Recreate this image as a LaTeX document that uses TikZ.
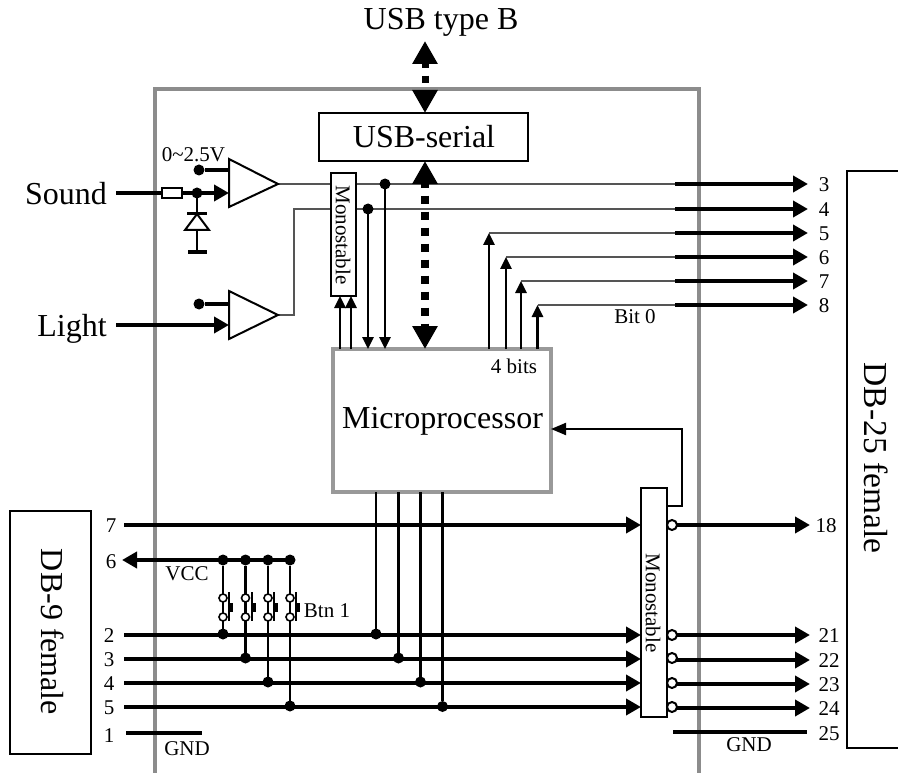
\documentclass[tikz,border=0pt]{standalone}
\usepackage{fontspec}
\setmainfont{Liberation Serif}
\usetikzlibrary{arrows.meta,calc}
\definecolor{framegray}{HTML}{8C8C8C}
\definecolor{microgray}{HTML}{999999}
\definecolor{thinw}{HTML}{555555}
\tikzset{
  big/.style={inner sep=0pt,font=\fontsize{32}{35}\selectfont},
  small/.style={inner sep=0pt,font=\fontsize{21}{24}\selectfont},
  box/.style={draw=black,line width=2pt,fill=white,inner sep=0pt,outer sep=0pt},
  thinwire/.style={draw=thinw,line width=1.3pt},
  thickwire/.style={draw=black,line width=4pt},
  midwire/.style={draw=black,line width=2.6pt},
  signal/.style={thickwire,-{Triangle[length=15pt,width=16pt]}},
  medarrow/.style={midwire,-{Triangle[length=12pt,width=11pt]}},
  usb/.style={draw=black,line width=7pt,{Triangle[length=23pt,width=24pt]}-{Triangle[length=23pt,width=24pt]}},
  joint/.style={circle,fill=black,inner sep=0pt,minimum size=11pt,outer sep=0pt},
  bubble/.style={circle,draw=black,line width=2pt,fill=white,inner sep=0pt,minimum size=10pt,outer sep=0pt},
  sbubble/.style={circle,draw=black,line width=1.6pt,fill=white,inner sep=0pt,minimum size=8pt,outer sep=0pt},
}
\begin{document}
\begin{tikzpicture}[x=1pt,y=-1pt]
\useasboundingbox (0,0) rectangle (898,773);
% frame
\draw[draw=framegray,line width=4pt] (155,773) -- (155,89) -- (699,89) -- (699,773);

% labels, external
\node[big] (usbb) at (441,22) {USB type B};
\node[big] (sound) at (66,194) {Sound};
\node[big] (light) at (72,329) {Light};
\node[box,minimum width=81pt,minimum height=243pt] (db9) at (50.5,632.5) {};
\node[big,rotate=-90] (db9t) at (53,632) {DB-9 female};
\draw[black,line width=2pt] (898,171) -- (847,171) -- (847,748) -- (898,748);
\node[big,rotate=-90,font=\fontsize{33.5}{36}\selectfont] (db25t) at (876,458) {DB-25 female};

% comparators
\coordinate (c1t) at (229,159); \coordinate (c1b) at (229,207); \coordinate (c1o) at (278,184);
\coordinate (c2t) at (229,291); \coordinate (c2b) at (229,339); \coordinate (c2o) at (278,315);

% output stubs
\foreach \n/\y/\lab in {o3/184/3,o4/209/4,o5/233/5,o6/257/6,o7/281/7,o8/305/8}{
  \coordinate (\n s) at (675,\y);
  \coordinate (\n e) at (808,\y);
  \node[small] (\n l) at (824,\y+1) {\lab};
}

% thin wires
\draw[thinwire] (c1o) -- (o3s);
\draw[thinwire] (c2o) -- (294,315) -- (294,209) -- (o4s);
\coordinate (b5) at (489,233); \coordinate (b6) at (506,257);
\coordinate (b7) at (521,281); \coordinate (b8) at (537.5,305);
\draw[thinwire] (b5) -- (o5s);
\draw[thinwire] (b6) -- (o6s);
\draw[thinwire] (b7) -- (o7s);
\draw[thinwire] (b8) -- (o8s);
\foreach \n in {o3,o4,o5,o6,o7,o8}{\draw[signal] (\n s) -- (\n e);}

% boxes
\node[draw=microgray,line width=4pt,fill=white,inner sep=0pt,outer sep=0pt,minimum width=218pt,minimum height=143pt] (micro) at (442,420.5) {};
\node[big] (microt) at (442.5,421) {Microprocessor};
\node[small] (bits) at (514,366) {4 bits};
\node[box,minimum width=209pt,minimum height=48pt] (usbs) at (423.5,137) {};
\node[big] (usbst) at (424,137) {USB-serial};
\node[box,minimum width=25pt,minimum height=123pt] (mono1) at (343,234.5) {};
\node[small,rotate=-90] (mono1t) at (343,235) {Monostable};
\node[box,minimum width=26pt,minimum height=229pt] (mono2) at (654,602.5) {};
\node[small,rotate=-90] (mono2t) at (653,603) {Monostable};

% USB arrows
\coordinate (usbtop) at (425,41);
\draw[usb,dash pattern=on 7pt off 8pt,dash phase=2pt] (usbtop) -- (usbs.north -| usbtop);
\draw[usb,line width=8pt,dash pattern=on 8pt off 8pt,dash phase=3pt] (usbs.south -| usbtop) -- (micro.north -| usbtop);

% Sound input
\node[draw=black,line width=2pt,fill=white,inner sep=0pt,outer sep=0pt,minimum width=20pt,minimum height=10pt] (res) at (172,193) {};
\draw[thickwire] (116,193) -- (res.west);
\draw[signal] (res.east) -- (c1t |- res);
\node[joint] (j1) at (197,193) {};
\node[joint] (j2) at (199,170) {};
\draw[thickwire] (j2) -- (j2 -| c1t);
\coordinate (dtop) at (197,214); \coordinate (dbase) at (197,230); \coordinate (gnd) at (197,252);
\draw[line width=2.6pt] (j1) -- (dtop);
\draw[line width=2.2pt] (187,213.5) -- (207,213.5);
\draw[line width=2pt,fill=white] (dtop) -- (209,230) -- (185,230) -- cycle;
\draw[line width=2.6pt] (dbase) -- (gnd);
\draw[line width=3.5pt] (188,252) -- (207,252);
\node[small] (range) at (193.5,155) {0\textasciitilde2.5V};

% Light input
\coordinate (lightin) at (116,325);
\draw[signal] (lightin) -- (lightin -| c2t);
\node[joint] (j3) at (199,304) {};
\draw[thickwire] (j3) -- (j3 -| c2t);

% triangles
\draw[black,line width=2pt,fill=white,line join=miter] (c1t) -- (c1o) -- (c1b) -- cycle;
\draw[black,line width=2pt,fill=white,line join=miter] (c2t) -- (c2o) -- (c2b) -- cycle;

% monostable 1 links
\coordinate (m1) at (340,296); \coordinate (m2) at (351,296);
\draw[medarrow] (micro.north -| m1) -- (mono1.south -| m1);
\draw[medarrow] (micro.north -| m2) -- (mono1.south -| m2);
\node[joint] (j4) at (385,184) {};
\node[joint] (j5) at (368,209) {};
\draw[medarrow] (j4) -- (micro.north -| j4);
\draw[medarrow] (j5) -- (micro.north -| j5);

% bits
\foreach \n in {b5,b6,b7,b8}{\draw[medarrow] (micro.north -| \n) -- (\n);}
\node[small] (bit0) at (635,317) {Bit 0};

% feedback
\coordinate (fb) at (681.5,429);
\coordinate (fbs) at (681.5,506);
\draw[midwire,line width=2pt,-{Triangle[length=15pt,width=12pt]}] (mono2.east |- fbs) -- (fbs) -- (fb) -- (micro.east |- fb);

% DB-9 side lines
\foreach \n/\y/\lab/\xx in {i7/525/7/111,i2/635/2/109,i3/659/3/109,i4/683/4/109,i5/707/5/109}{
  \coordinate (\n) at (124,\y);
  \node[small] (\n l) at (\xx,\y+1) {\lab};
  \draw[signal] (\n) -- (\n -| mono2.west);
}
\node[small] (i6l) at (111,562) {6};
\node[small] (i1l) at (109,736) {1};
\draw[thickwire] (126,733) -- (202,733);
\node[small] (gnd1) at (187,749) {GND};
\node[small] (vcc) at (187,574) {VCC};

% VCC
\node[joint] (v1) at (223,560) {};
\node[joint] (v2) at (245.5,560) {};
\node[joint] (v3) at (268,560) {};
\node[joint] (v4) at (290,560) {};
\coordinate (vout) at (122,560);
\draw[signal] (v4) -- (vout);

% micro vertical
\foreach \n/\x/\y in {a/376/634,b/398.5/658,c/420.5/682,d/442.5/706.5}{
  \node[joint] (m\n) at (\x,\y) {};
  \draw[midwire] (m\n) -- (m\n |- micro.south);
}
% switches
\foreach \n/\x/\y/\bb in {1/223/634/229,2/245.5/658/252,3/268/682/274,4/290/706/296}{
  \node[joint] (s\n j) at (\x,\y) {};
  \draw[midwire] (v\n) -- (s\n j);
  \node[sbubble] (s\n a) at (\x,598) {};
  \node[sbubble] (s\n b) at (\x,617) {};
  \draw[black,line width=1.2pt] (\bb,592) -- (\bb,621);
  \fill[black] (\bb,603) rectangle (\bb+4,612);
}
\node[small] (btn) at (327,611) {Btn 1};

% outputs bottom
\foreach \n/\y/\b/\lab/\xx in {q18/525/525/18/826,q21/635/635/21/829,q22/660/658/22/829,q23/684/683/23/829,q24/708/707/24/829}{
  \coordinate (\n e) at (810,\y);
  \node[small] (\n l) at (\xx,\y+1) {\lab};
  \draw[signal] (672,\y) -- (\n e);
  \node[bubble] (\n b) at (672,\b) {};
}
\node[small] (q25l) at (829,734) {25};
\draw[thickwire] (673,732) -- (807,732);
\node[small] (gnd2) at (749,745) {GND};
\end{tikzpicture}
\end{document}
